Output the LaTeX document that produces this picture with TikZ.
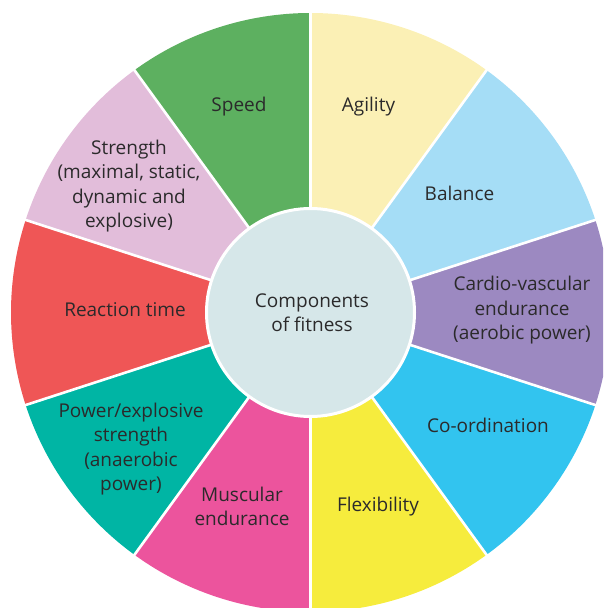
\documentclass[tikz,border=0pt]{standalone}
\usepackage{fontspec}
\setmainfont{Open Sans}
\definecolor{cspeed}{HTML}{5DB060}
\definecolor{cagility}{HTML}{FBF0B5}
\definecolor{cbalance}{HTML}{A5DDF6}
\definecolor{ccardio}{HTML}{9C89C1}
\definecolor{ccoord}{HTML}{32C4EF}
\definecolor{cflex}{HTML}{F6EC3D}
\definecolor{cmusc}{HTML}{EC549D}
\definecolor{cpower}{HTML}{00B5A4}
\definecolor{creact}{HTML}{EF5656}
\definecolor{cstrength}{HTML}{E2BDDA}
\definecolor{chub}{HTML}{D6E7E9}
\definecolor{ctext}{HTML}{2B2A2B}
\tikzset{
  label/.style={font=\fontsize{19}{24.5}\selectfont, text=ctext, align=center, inner sep=0pt},
  separator/.style={draw=white, line width=2.6pt},
}
\begin{document}
\begin{tikzpicture}[x=1pt,y=1pt]
  \useasboundingbox (0,0) rectangle (603,608);
  \clip (0,0) rectangle (603,608);
  \coordinate (c) at (310.5,295.5);
  \def\R{299.5}
  % coloured sectors, 36 degrees each
  \foreach \a/\b/\col in {54/90/cagility, 18/54/cbalance, -18/18/ccardio,
      -54/-18/ccoord, -90/-54/cflex, -126/-90/cmusc, -162/-126/cpower,
      162/198/creact, 126/162/cstrength, 90/126/cspeed}{
    \fill[\col] (c) -- ++(\a:\R) arc[start angle=\a, end angle=\b, radius=\R] -- cycle;
  }
  % white dividing lines between sectors
  \foreach \a in {90,54,18,-18,-54,-90,-126,-162,162,126}{
    \draw[separator] (c) -- ++(\a:\R+2);
  }
  % hub
  \node[circle, fill=chub, draw=white, line width=3pt, minimum size=208pt, inner sep=0pt] (hub) at (c) {};
  \node[label] (centre) at (312,295.5) {Components\\of fitness};
  % sector labels
  \node[label] (speed) at (239,501) {Speed};
  \node[label] (agility) at (368.5,501) {Agility};
  \node[label] (balance) at (459.5,415) {Balance};
  \node[label] (cardio) at (522,297.5) {Cardio-vascular\\endurance\\(aerobic power)};
  \node[label] (coord) at (488,183) {Co-ordination};
  \node[label] (flex) at (378,101) {Flexibility};
  \node[label] (musc) at (242,101.5) {Muscular\\endurance};
  \node[label] (power) at (131,159) {Power/explosive\\strength\\(anaerobic\\power)};
  \node[label] (react) at (125,298) {Reaction time};
  \node[label] (strength) at (129,422) {Strength\\(maximal, static,\\dynamic and\\explosive)};
\end{tikzpicture}
\end{document}
